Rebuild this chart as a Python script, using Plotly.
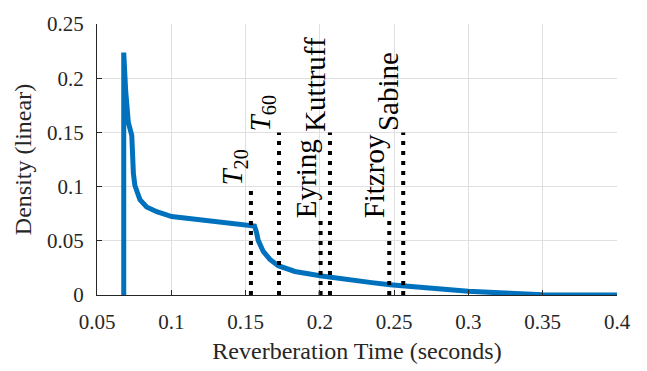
import plotly.graph_objects as go

# ---- data ----
curve_x = [0.0680, 0.0680, 0.0693, 0.0711, 0.0734, 0.0738, 0.0745, 0.0755, 0.0770,
           0.0789, 0.0834, 0.0902, 0.1003, 0.1171, 0.1350, 0.1530, 0.1560, 0.1573,
           0.1585, 0.1619, 0.1664, 0.1720, 0.1832, 0.2012, 0.2169, 0.2349, 0.2472,
           0.2719, 0.2999, 0.3279, 0.3500, 0.4000]
curve_y = [0.0, 0.2236, 0.1884, 0.1590, 0.1473, 0.1294, 0.1120, 0.1010, 0.0940,
           0.0880, 0.0812, 0.0768, 0.0724, 0.0695, 0.0666, 0.0642, 0.0636, 0.0580,
           0.0504, 0.0402, 0.0328, 0.0270, 0.0217, 0.0176, 0.0143, 0.0114, 0.0094,
           0.0064, 0.0035, 0.0015, 0.0003, 0.0]

method_names = ["<i>T</i><sub>20</sub>", "<i>T</i><sub>60</sub>", "Eyring", "Kuttruff", "Fitzroy", "Sabine"]
method_times = [0.1536, 0.1725, 0.2005, 0.2068, 0.2467, 0.2561]
method_heights = [0.10, 0.15, 0.07, 0.15, 0.07, 0.15]

x_tickvals = [0.05, 0.1, 0.15, 0.2, 0.25, 0.3, 0.35, 0.4]
x_ticktext = ["0.05", "0.1", "0.15", "0.2", "0.25", "0.3", "0.35", "0.4"]
y_tickvals = [0, 0.05, 0.1, 0.15, 0.2, 0.25]
y_ticktext = ["0", "0.05", "0.1", "0.15", "0.2", "0.25"]

FONT = "Liberation Serif, Times New Roman, serif"
AXC = "#262626"

fig = go.Figure()
fig.add_trace(go.Scatter(x=curve_x, y=curve_y, mode="lines",
                         line=dict(color="#0072BD", width=5), showlegend=False))
for t, h in zip(method_times, method_heights):
    fig.add_trace(go.Scatter(x=[t, t], y=[0, h], mode="lines",
                             line=dict(color="black", width=4, dash="4px,6px"),
                             showlegend=False))
for name, t, h in zip(method_names, method_times, method_heights):
    fig.add_annotation(x=t, y=h, xref="x", yref="y", text=name, textangle=-90,
                       xanchor="right", yanchor="bottom", showarrow=False,
                       xshift=2, yshift=0,
                       font=dict(family=FONT, size=29, color="black"), borderpad=0)

axis_common = dict(showgrid=True, gridcolor="#DFDFDF", gridwidth=1, zeroline=False,
                   showline=True, linecolor=AXC, linewidth=1, ticks="inside",
                   ticklen=5, tickcolor=AXC, tickfont=dict(family=FONT, size=21, color=AXC),
                   mirror=False)

fig.update_layout(
    width=647, height=371,
    margin=dict(l=97, r=30, t=15, b=72),
    paper_bgcolor="white", plot_bgcolor="white",
    font=dict(family=FONT),
    xaxis=dict(range=[0.05, 0.4], tickvals=x_tickvals, ticktext=x_ticktext,
               title=dict(text="Reverberation Time (seconds)", font=dict(family=FONT, size=24, color=AXC), standoff=8),
               ticklabelstandoff=8, **axis_common),
    yaxis=dict(range=[0, 0.25], tickvals=y_tickvals, ticktext=y_ticktext,
               title=dict(text="Density (linear)", font=dict(family=FONT, size=24, color=AXC), standoff=8),
               ticklabelstandoff=8, **axis_common),
)

fig.write_html("out.html")
